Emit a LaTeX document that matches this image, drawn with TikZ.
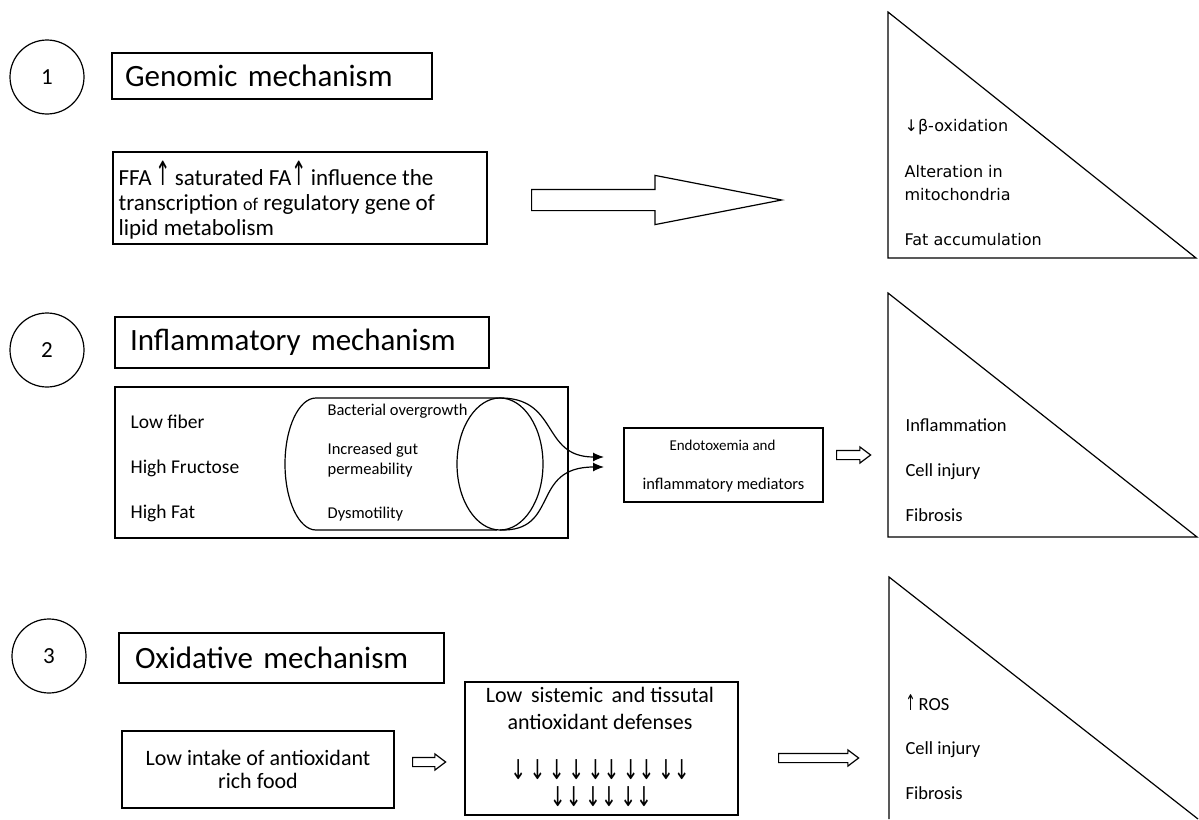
\documentclass[tikz,border=0pt]{standalone}
\usepackage{fontspec}
\setmainfont{Carlito}
\newfontfamily\dejavu{DejaVu Sans}
\usetikzlibrary{shapes.arrows,arrows.meta}
\newcommand{\fsz}[2]{\fontsize{#1}{#2}\selectfont}
\newcommand{\tallup}{{\dejavu\scalebox{0.8}[1.45]{↑}}}
\newcommand{\talldn}{{\dejavu\scalebox{0.9}[1.3]{↓}}}
\begin{document}
\begin{tikzpicture}[x=1pt,y=-1pt,line width=1.2pt,
  numcircle/.style={draw,circle,minimum size=74pt,inner sep=0pt,font=\fsz{23}{26}},
  header/.style={draw,inner ysep=0pt,align=left,font=\fsz{31}{36}},
  plainbox/.style={draw,inner sep=0pt},
  lbl/.style={anchor=west,inner sep=0pt},
  ctext/.style={inner sep=0pt,align=center},
  blockarrow/.style={draw,single arrow,single arrow head indent=0pt,inner xsep=0pt,anchor=tail},
  smallarrow/.style={blockarrow,inner ysep=4pt,single arrow head extend=3.5pt,single arrow tip angle=74},
  curvearrow/.style={-{Latex[length=11pt,width=9pt]}}
]
\useasboundingbox (0,0) rectangle (1199,819);

% ---------- row 1 ----------
\node[numcircle] (c1) at (47,77) {1};
\node[header,minimum height=46pt,text width=294pt,inner xsep=13pt] (h1) at (272,76) {Genomic mechanism};
\node[plainbox,minimum width=374pt,minimum height=92pt] (ffa) at (300,198) {};
\node[lbl,align=left,font=\fsz{23}{25}] (ffat) at (118,200)
  {FFA\,\tallup\,saturated FA\tallup\,influence the\\
   transcription {\fsz{18}{24}of} regulatory gene of\\
   lipid metabolism};
\node[blockarrow,minimum height=250pt,inner ysep=10pt,single arrow head extend=14pt,single arrow tip angle=22] (a1) at (531,200) {};
\draw (888,12) -- (888,258) -- (1196,258) -- cycle;
\node[lbl,font=\dejavu\fsz{16}{19}] (t1a) at (904,127) {↓β-oxidation};
\node[lbl,font=\dejavu\fsz{16}{19}] (t1b) at (904,172) {Alteration in};
\node[lbl,font=\dejavu\fsz{16}{19}] (t1c) at (904,195) {mitochondria};
\node[lbl,font=\dejavu\fsz{16}{19}] (t1d) at (904,240) {Fat accumulation};

% ---------- row 2 ----------
\node[numcircle] (c2) at (47,350) {2};
\node[header,minimum height=51pt,text width=344pt,inner xsep=15pt] (h2) at (302,342.5) {Inflammatory mechanism};
\node[plainbox,minimum width=453pt,minimum height=151pt] (box2) at (341.5,462.5) {};
\node[lbl,font=\fsz{19.5}{22}] (lf) at (130,422) {Low fiber};
\node[lbl,font=\fsz{19.5}{22}] (hfr) at (130,468) {High Fructose};
\node[lbl,font=\fsz{19.5}{22}] (hfa) at (130,513) {High Fat};
% gut cylinder
\draw (497,398) -- (316,398) arc[start angle=270,end angle=90,x radius=31,y radius=66] -- (497,530);
\draw (500,464) ellipse[x radius=43,y radius=66];
\coordinate (etop) at (497,398);
\coordinate (ebot) at (500,530);
\node[lbl,font=\fsz{16.5}{18}] (g1) at (327,411) {Bacterial overgrowth};
\node[lbl,font=\fsz{16.5}{20},align=left] (g2) at (327,460) {Increased gut\\permeability};
\node[lbl,font=\fsz{16.5}{18}] (g3) at (327,514) {Dysmotility};
\coordinate (tip1) at (604,457);
\coordinate (tip2) at (604,467);
\draw[curvearrow] (etop) .. controls (560,396) and (540,457) .. (tip1);
\draw[curvearrow] (ebot) .. controls (560,532) and (530,467) .. (tip2);
\node[plainbox,minimum width=199pt,minimum height=74pt] (endo) at (723.5,465) {};
\node[ctext,font=\fsz{15}{18}] (endo1) at (722.5,445) {Endotoxemia and};
\node[ctext,font=\fsz{16.5}{20}] (endo2) at (723.5,485) {inflammatory mediators};
\node[smallarrow,minimum height=34pt] (a2) at (836,455) {};
\draw (888,293) -- (888,537) -- (1197,537) -- cycle;
\node[lbl,font=\fsz{18.5}{22}] (t2a) at (905,425) {Inflammation};
\node[lbl,font=\fsz{18.5}{22}] (t2b) at (905,472) {Cell injury};
\node[lbl,font=\fsz{18.5}{22}] (t2c) at (905,515) {Fibrosis};

% ---------- row 3 ----------
\node[numcircle] (c3) at (49,656) {3};
\node[header,minimum height=50pt,text width=293pt,inner xsep=16pt] (h3) at (281.5,658) {Oxidative mechanism};
\node[plainbox,minimum width=272pt,minimum height=77pt,align=center,font=\fsz{22}{23}] (low) at (258,769.5)
  {Low intake of antioxidant\\rich food};
\node[smallarrow,minimum height=33pt] (a3) at (412,762) {};
\node[plainbox,minimum width=273pt,minimum height=133pt] (sys) at (601.5,748.5) {};
\node[ctext,font=\fsz{22}{27}] (syst) at (600,708.5) {Low\, sistemic\, and tissutal\\antioxidant defenses};
\node[ctext,font=\dejavu\fsz{21}{22}] (dn1) at (600,770)
  {\talldn\,\talldn\,\talldn\,\talldn\,\talldn\talldn\,\talldn\talldn\,\talldn\talldn};
\node[ctext,font=\dejavu\fsz{21}{22}] (dn2) at (601,797) {\talldn\talldn\,\talldn\talldn\,\talldn\talldn};
\node[smallarrow,minimum height=80pt] (a4) at (778,758) {};
\draw (889,819) -- (889,577) -- (1198,819);
\node[lbl,font=\fsz{18.5}{22}] (t3a) at (905,703) {{\fsz{15}{18}\tallup}\,ROS};
\node[lbl,font=\fsz{18.5}{22}] (t3b) at (905,750) {Cell injury};
\node[lbl,font=\fsz{18.5}{22}] (t3c) at (905,793) {Fibrosis};
\end{tikzpicture}
\end{document}
